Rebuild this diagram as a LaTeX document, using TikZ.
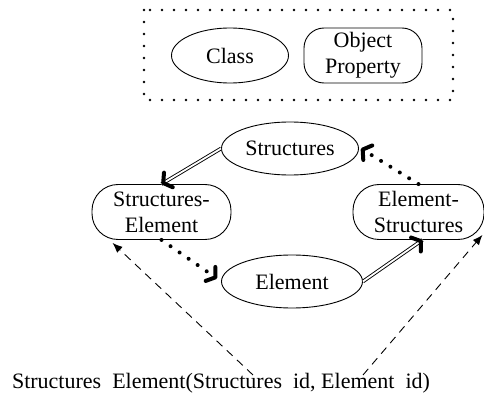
\documentclass[tikz,border=0pt]{standalone}
\usepackage{fontspec}
\setmainfont{Liberation Serif}
\usetikzlibrary{arrows.meta,shapes.geometric,calc}
\begin{document}
\begin{tikzpicture}[x=0.5pt,y=-0.5pt,
  font=\fontsize{11}{13}\selectfont,
  cls/.style={ellipse, draw, line width=0.45pt, inner sep=0pt},
  prop/.style={rectangle, draw, line width=0.45pt, rounded corners=13pt,
    inner sep=0pt, align=center},
  legendframe/.style={line width=1.3pt, line cap=round, dash pattern=on 0pt off 6pt},
  dbl/.style={draw, double, line width=0.45pt, double distance=0.9pt},
  barbtip/.style={tips, line width=2pt,
    -{Straight Barb[length=3pt,width=8.5pt,round]}},
  dotlink/.style={line width=2pt, line cap=round, dash pattern=on 0pt off 5.5pt,
    -{Straight Barb[length=3pt,width=8.5pt,round,line width=2pt]}},
  dashlink/.style={line width=0.45pt, dash pattern=on 4pt off 3pt,
    -{Latex[length=5pt,width=4pt]}}
]
\useasboundingbox (0,0) rectangle (484,396);

% legend
\draw[legendframe] (144,10) rectangle (453,100);
\node[cls, minimum width=58.5pt, minimum height=27.5pt] (class) at (230,55.5) {Class};
\node[prop, rounded corners=10pt, minimum width=59pt, minimum height=27.5pt] (objprop) at (363,55.5) {Object\\Property};

% classes
\node[cls, minimum width=68.5pt, minimum height=26.5pt] (str) at (290,148.5) {Structures};
\node[cls, minimum width=70.5pt, minimum height=26.5pt] (elem) at (292,281.5) {Element};

% object properties
\node[prop, minimum width=69.5pt, minimum height=27.5pt] (se) at (161.5,212) {Structures-\\Element};
\node[prop, minimum width=65.5pt, minimum height=27.5pt] (es) at (418.5,212) {Element-\\Structures};

% relation table
\node (tbl) at (221,383) {Structures\ \ Element(Structures\ \ id, Element\ \ id)};
\coordinate (tblA) at (253,375);
\coordinate (tblB) at (363,375);

% domain/range links
\draw[dbl] (str.west) -- (se.north);
\path[barbtip] (str.west) -- (se.north);
\draw[dbl] (elem.east) -- ($(es.south)+(4,0)$);
\path[barbtip] (elem.east) -- ($(es.south)+(4,0)$);
\draw[dotlink] (se.south) -- ($(elem.west)+(-4,-3)$);
\draw[dotlink] (es.north) -- ($(str.east)+(2,0)$);

% mapping to the table
\draw[dashlink] (tblA) -- ($(se.south west)+(21,3)$);
\draw[dashlink] (tblB) -- ($(es.south east)+(-2,-5)$);
\end{tikzpicture}
\end{document}
